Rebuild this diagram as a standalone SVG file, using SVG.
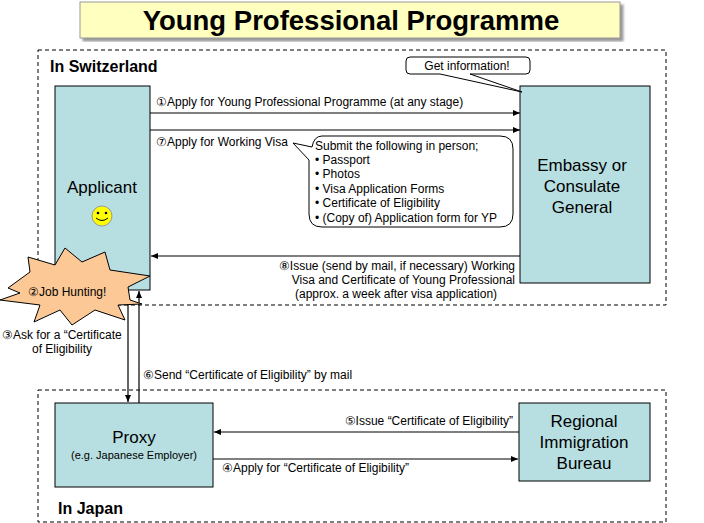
<svg xmlns="http://www.w3.org/2000/svg" width="704" height="523" viewBox="0 0 704 523">
<defs>
<marker id="ah" markerWidth="8" markerHeight="8" refX="7" refY="4" orient="auto" markerUnits="userSpaceOnUse"><path d="M0,1 L7,4 L0,7 z" fill="#000"/></marker>
<filter id="sh"><feDropShadow dx="3" dy="3" stdDeviation="1" flood-color="#999"/></filter>
</defs>
<style>
text{font-family:"Liberation Sans",Arial,sans-serif;fill:#000}
.s{font-size:12px}
.b{font-size:17px}
.node{fill:#b7dee1;stroke:#000;stroke-width:1}
.dash{fill:none;stroke:#000;stroke-dasharray:4,3}
.c{stroke:#000;stroke-width:1.2;fill:none;marker-end:url(#ah)}
</style>
<rect width="704" height="523" fill="#fff"/>
<g id="title"><rect x="80" y="2" width="540" height="36" fill="#ffffc0" stroke="#999" filter="url(#sh)"/>
<text x="351" y="30" text-anchor="middle" font-size="27.5" font-weight="bold">Young Professional Programme</text></g>
<g id="switzerland"><rect class="dash" x="38" y="50" width="628" height="255"/><text x="50" y="72" font-size="16" font-weight="bold">In Switzerland</text></g>
<g id="japan"><rect class="dash" x="38" y="390" width="628" height="132"/><text x="58" y="514" font-size="16" font-weight="bold">In Japan</text></g>
<g id="connectors">
<line class="c" x1="150" y1="113" x2="520" y2="113"/>
<line class="c" x1="150" y1="130" x2="520" y2="130"/>
<line class="c" x1="520" y1="256" x2="151" y2="256"/>
<line class="c" x1="128" y1="290" x2="128" y2="402"/>
<line class="c" x1="139" y1="403" x2="139" y2="291"/>
<line class="c" x1="519" y1="432" x2="214" y2="432"/>
<line class="c" x1="213" y1="459" x2="518" y2="459"/>
<text class="s" x="156" y="106">①Apply for Young Professional Programme (at any stage)</text>
<text class="s" x="156" y="146">⑦Apply for Working Visa</text>
<text class="s" x="515" y="270" text-anchor="end">⑧Issue (send by mail, if necessary) Working</text>
<text class="s" x="515" y="284" text-anchor="end">Visa and Certificate of Young Professional</text>
<text class="s" x="295" y="298">(approx. a week after visa application)</text>
<text class="s" x="2" y="339">③Ask for a “Certificate</text>
<text class="s" x="32" y="353">of Eligibility</text>
<text class="s" x="143" y="379">⑥Send “Certificate of Eligibility” by mail</text>
<text class="s" x="513" y="425" text-anchor="end">⑤Issue “Certificate of Eligibility”</text>
<text class="s" x="222" y="472">④Apply for “Certificate of Eligibility”</text>
</g>
<g id="applicant"><rect class="node" x="55" y="86" width="95" height="204"/>
<text x="102" y="193" class="b" text-anchor="middle">Applicant</text>
<circle cx="102" cy="216" r="10" fill="#ffff00" stroke="#999"/>
<circle cx="98" cy="213" r="1.3" fill="#000"/><circle cx="106" cy="213" r="1.3" fill="#000"/>
<path d="M96,218 Q102,223 108,218" fill="none" stroke="#000"/></g>
<g id="job"><polygon points="8,288 30,272 28,257 55,265 65,248 82,262 105,252 110,270 150,276 128,287 130,300 142,304 118,305 125,320 95,310 72,325 60,310 34,322 40,305 0,300 20,293" fill="#fcc896" stroke="#000"/>
<text class="s" x="28" y="296">②Job Hunting!</text></g>
<g id="embassy"><rect class="node" x="520" y="86" width="130" height="197"/>
<text x="582" y="171" class="b" text-anchor="middle">Embassy or</text>
<text x="582" y="192" class="b" text-anchor="middle">Consulate</text>
<text x="582" y="213" class="b" text-anchor="middle">General</text></g>
<g id="getinfo"><path d="M410,57 H526 Q530,57 530,61 V70 Q530,74 526,74 H470 L522,92 L440,74 H410 Q406,74 406,70 V61 Q406,57 410,57 Z" fill="#fff" stroke="#000"/>
<text class="s" x="467" y="70" text-anchor="middle">Get information!</text></g>
<g id="submit"><path d="M322,136 H500 Q513,136 513,149 V214 Q513,227 500,227 H322 Q309,227 309,214 V160 L293,143 L312,147 Q314,136 322,136 Z" fill="#fff" stroke="#000"/>
<text class="s" x="315" y="150">Submit the following in person;</text>
<text class="s" x="315" y="164">• Passport</text>
<text class="s" x="315" y="178">• Photos</text>
<text class="s" x="315" y="193">• Visa Application Forms</text>
<text class="s" x="315" y="207">• Certificate of Eligibility</text>
<text class="s" x="315" y="222">• (Copy of) Application form for YP</text></g>
<g id="proxy"><rect class="node" x="55" y="403" width="158" height="84"/>
<text x="134" y="443" class="b" text-anchor="middle">Proxy</text>
<text x="134" y="459" font-size="11" text-anchor="middle">(e.g. Japanese Employer)</text></g>
<g id="bureau"><rect class="node" x="519" y="403" width="131" height="78"/>
<text x="584" y="427" class="b" text-anchor="middle">Regional</text>
<text x="584" y="448" class="b" text-anchor="middle">Immigration</text>
<text x="584" y="469" class="b" text-anchor="middle">Bureau</text></g>
</svg>
